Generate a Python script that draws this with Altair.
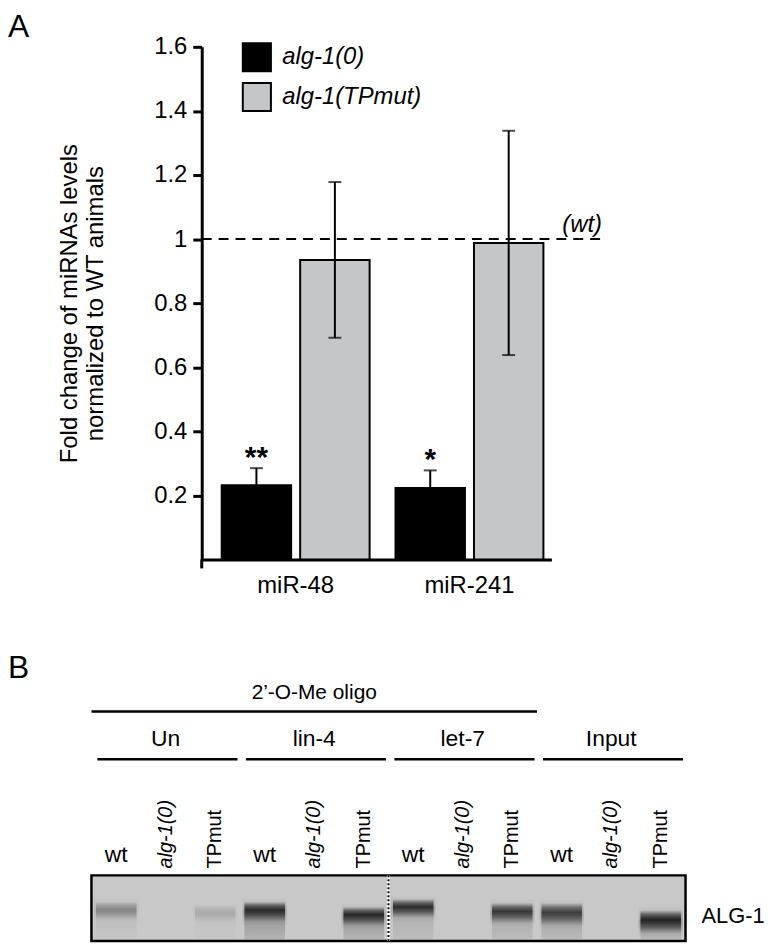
import altair as alt
import pandas as pd

FONT = "Liberation Sans"

# ---------------- Panel A data ----------------
mirna_order = ["miR-48", "miR-241"]
genotype_order = ["alg-1(0)", "alg-1(TPmut)"]
genotype_colors = ["#000000", "#c5c6c8"]
mirnas = ["miR-48", "miR-48", "miR-241", "miR-241"]
genotypes = ["alg-1(0)", "alg-1(TPmut)", "alg-1(0)", "alg-1(TPmut)"]
means = [0.232, 0.935, 0.223, 0.988]
errors = [0.053, 0.243, 0.055, 0.350]
stars = ["**", "", "*", ""]
y_ticks = [0.2, 0.4, 0.6, 0.8, 1.0, 1.2, 1.4, 1.6]
wt_level = 1.0

# ---------------- Panel B data ----------------
lane_labels = ["wt", "alg-1(0)", "TPmut"] * 4
lane_groups = ["Un"] * 3 + ["lin-4"] * 3 + ["let-7"] * 3 + ["Input"] * 3
group_order = ["Un", "lin-4", "let-7", "Input"]
oligo_groups = ["Un", "lin-4", "let-7"]
band_intensity = [0.35, 0.0, 0.15, 0.95, 0.0, 0.97, 0.92, 0.0, 0.85, 0.80, 0.0, 1.0]
band_smear = [0.12, 0.0, 0.06, 0.60, 0.0, 0.55, 0.30, 0.0, 0.35, 0.40, 0.0, 0.45]
band_top = [0.60, 0.55, 0.55, 0.60, 0.55, 0.52, 0.64, 0.58, 0.58, 0.58, 0.50, 0.47]
band_bottom = [0.32, 0.32, 0.29, 0.29, 0.30, 0.23, 0.35, 0.33, 0.27, 0.23, 0.20, 0.11]

# ---------------- Panel A ----------------
dfA = pd.DataFrame({"miRNA": mirnas, "genotype": genotypes, "mean": means,
                    "err": errors, "star": stars})
dfA["lo"] = dfA["mean"] - dfA["err"]
dfA["hi"] = dfA["mean"] + dfA["err"]

W_A, H_A = 352, 516

x_enc = alt.X("miRNA:N", sort=mirna_order,
              scale=alt.Scale(paddingInner=0.149, paddingOuter=0.0805, align=0.714),
              axis=alt.Axis(title=None, labelAngle=0, labelFontSize=24, labelColor="black",
                            labelFont=FONT, labelPadding=14, ticks=False,
                            domainColor="black", domainWidth=3))
xoff = alt.XOffset("genotype:N", sort=genotype_order,
                   scale=alt.Scale(paddingInner=0.115, paddingOuter=0))
y_scale = alt.Scale(domain=[0, 1.6], nice=False, zero=True)

bars = alt.Chart(dfA).mark_bar(stroke="black", strokeWidth=2).encode(
    x=x_enc, xOffset=xoff,
    y=alt.Y("mean:Q", scale=y_scale,
            axis=alt.Axis(values=y_ticks, format="~g", grid=False,
                          title=["Fold change of miRNAs levels", "normalized to WT animals"],
                          titleFontSize=24, titleFont=FONT, titleFontWeight="normal",
                          titleColor="black", titleLineHeight=27, titlePadding=46,
                          labelFontSize=24, labelFont=FONT, labelColor="black",
                          labelPadding=6, tickSize=9, tickWidth=3, tickColor="black",
                          domainColor="black", domainWidth=3)),
    color=alt.Color("genotype:N", sort=genotype_order,
                    scale=alt.Scale(domain=genotype_order, range=genotype_colors),
                    legend=alt.Legend(title=None, orient="none", legendX=40, legendY=-5,
                                      symbolType="square", symbolSize=800,
                                      symbolStrokeColor="black", symbolStrokeWidth=2,
                                      symbolOpacity=1, labelFontSize=24,
                                      labelFontStyle="italic", labelFont=FONT,
                                      labelColor="black", labelOffset=10,
                                      rowPadding=3, padding=0)),
)

err_rule = alt.Chart(dfA).mark_rule(color="black", strokeWidth=2).encode(
    x=x_enc, xOffset=xoff, y=alt.Y("lo:Q", scale=y_scale), y2="hi:Q")
cap_hi = alt.Chart(dfA).mark_tick(color="black", thickness=2, size=13).encode(
    x=x_enc, xOffset=xoff, y=alt.Y("hi:Q", scale=y_scale))
cap_lo = alt.Chart(dfA).mark_tick(color="black", thickness=2, size=13).encode(
    x=x_enc, xOffset=xoff, y=alt.Y("lo:Q", scale=y_scale))
star_txt = alt.Chart(dfA).transform_filter("datum.star != ''").mark_text(
    fontSize=30, fontWeight="bold", font=FONT, baseline="alphabetic", dy=-1, color="black"
).encode(x=x_enc, xOffset=xoff, y=alt.Y("hi:Q", scale=y_scale), text="star:N")

wt_df = pd.DataFrame({"level": [wt_level], "label": ["(wt)"]})
wt_rule = alt.Chart(wt_df).mark_rule(color="black", strokeWidth=2, strokeDash=[10, 7]).encode(
    y=alt.Y("level:Q", scale=y_scale), x=alt.value(0), x2=alt.value(404))
wt_text = alt.Chart(wt_df).mark_text(fontSize=24, fontStyle="italic", font=FONT, align="left",
                                     baseline="middle", dy=-14, color="black").encode(
    y=alt.Y("level:Q", scale=y_scale), x=alt.value(363), text="label:N")

corner = alt.Chart(wt_df).mark_rule(color="black", strokeWidth=3).encode(
    x=alt.value(0), y=alt.value(H_A), y2=alt.value(H_A + 9))

letterA = alt.Chart(pd.DataFrame({"t": ["A"]})).mark_text(
    fontSize=32, font=FONT, align="left", baseline="top", color="black").encode(
    x=alt.value(-195), y=alt.value(-35), text="t:N")

panelA = alt.layer(bars, err_rule, cap_hi, cap_lo, star_txt, wt_rule, wt_text, corner,
                   letterA).properties(width=W_A, height=H_A)

# ---------------- Panel B ----------------
n = len(lane_labels)
dfB = pd.DataFrame({"label": lane_labels, "group": lane_groups,
                    "intensity": band_intensity, "smear": band_smear,
                    "top": band_top, "bottom": band_bottom})
dfB["i"] = range(n)
dfB["x0"] = dfB["i"] - 0.41
dfB["x1"] = dfB["i"] + 0.41
dfB["h0"] = dfB["i"] - 0.45
dfB["h1"] = dfB["i"] + 0.45
dfB["mid"] = (dfB["top"] + dfB["bottom"]) / 2
dfB["halo_top"] = dfB["top"] + 0.06
dfB["halo_bottom"] = dfB["bottom"] - 0.06
dfB["halo"] = dfB["intensity"] * 0.35

gdf = pd.DataFrame({"group": group_order})
gdf["g"] = range(len(group_order))
gdf["xc"] = gdf["g"] * 3 + 1
gdf["xs"] = gdf["g"] * 3 - 0.38
gdf["xe"] = gdf["g"] * 3 + 2.45

odf = pd.DataFrame({"label": ["2\u2019-O-Me oligo"],
                    "xs": [-0.5], "xe": [len(oligo_groups) * 3 - 0.5]})
odf["xc"] = (odf["xs"] + odf["xe"]) / 2

gel = pd.DataFrame({"xs": [-0.5], "xe": [n - 0.5], "ys": [0.0], "ye": [1.0]})
sep = pd.DataFrame({"x": [group_order.index("let-7") * 3 - 0.5], "ys": [0.0], "ye": [1.0]})

W_B, H_B = 487, 364
xs = alt.Scale(domain=[-0.5, n - 0.5], range=[-111, W_B], nice=False, zero=False)
ys = alt.Scale(domain=[0, 1], range=[H_B, 298], nice=False, zero=False)

band_grad = alt.LinearGradient(
    gradient="linear", x1=0, x2=0, y1=0, y2=1,
    stops=[alt.GradientStop(offset=0, color="rgba(40,40,40,0)"),
           alt.GradientStop(offset=0.2, color="rgba(30,30,30,0.6)"),
           alt.GradientStop(offset=0.42, color="rgba(25,25,25,0.95)"),
           alt.GradientStop(offset=0.7, color="rgba(55,55,55,0.65)"),
           alt.GradientStop(offset=1, color="rgba(80,80,80,0)")])
halo_grad = alt.LinearGradient(
    gradient="linear", x1=0, x2=0, y1=0, y2=1,
    stops=[alt.GradientStop(offset=0, color="rgba(90,90,90,0)"),
           alt.GradientStop(offset=0.5, color="rgba(70,70,70,0.8)"),
           alt.GradientStop(offset=1, color="rgba(90,90,90,0)")])
smear_grad = alt.LinearGradient(
    gradient="linear", x1=0, x2=0, y1=0, y2=1,
    stops=[alt.GradientStop(offset=0, color="rgba(70,70,70,0.75)"),
           alt.GradientStop(offset=1, color="rgba(100,100,100,0.35)")])

gel_rect = alt.Chart(gel).mark_rect(fill="#c8c8c8", stroke="black", strokeWidth=2.5).encode(
    x=alt.X("xs:Q", scale=xs, axis=None), x2="xe:Q",
    y=alt.Y("ys:Q", scale=ys, axis=None), y2="ye:Q")
smear = alt.Chart(dfB).transform_filter("datum.smear > 0").mark_rect(fill=smear_grad).encode(
    x=alt.X("x0:Q", scale=xs, axis=None), x2="x1:Q",
    y=alt.Y("mid:Q", scale=ys, axis=None), y2=alt.datum(0.02),
    opacity=alt.Opacity("smear:Q", scale=None))
halo = alt.Chart(dfB).transform_filter("datum.intensity > 0").mark_rect(fill=halo_grad).encode(
    x=alt.X("h0:Q", scale=xs, axis=None), x2="h1:Q",
    y=alt.Y("halo_top:Q", scale=ys, axis=None), y2="halo_bottom:Q",
    opacity=alt.Opacity("halo:Q", scale=None))
bands = alt.Chart(dfB).transform_filter("datum.intensity > 0").mark_rect(fill=band_grad).encode(
    x=alt.X("x0:Q", scale=xs, axis=None), x2="x1:Q",
    y=alt.Y("top:Q", scale=ys, axis=None), y2="bottom:Q",
    opacity=alt.Opacity("intensity:Q", scale=None))
sep_white = alt.Chart(sep).mark_rule(color="white", strokeWidth=3).encode(
    x=alt.X("x:Q", scale=xs, axis=None), y=alt.Y("ys:Q", scale=ys, axis=None), y2="ye:Q")
sep_black = alt.Chart(sep).mark_rule(color="black", strokeWidth=2, strokeDash=[2, 2]).encode(
    x=alt.X("x:Q", scale=xs, axis=None), y=alt.Y("ys:Q", scale=ys, axis=None), y2="ye:Q")

oligo_text = alt.Chart(odf).mark_text(fontSize=21, font=FONT, baseline="middle",
                                      color="black").encode(
    x=alt.X("xc:Q", scale=xs, axis=None), y=alt.value(114), text="label:N")
oligo_line = alt.Chart(odf).mark_rule(color="black", strokeWidth=2.5).encode(
    x=alt.X("xs:Q", scale=xs, axis=None), x2="xe:Q", y=alt.value(133))
group_text = alt.Chart(gdf).mark_text(fontSize=23, font=FONT, baseline="middle",
                                      color="black").encode(
    x=alt.X("xc:Q", scale=xs, axis=None), y=alt.value(161), text="group:N")
group_line = alt.Chart(gdf).mark_rule(color="black", strokeWidth=2.5).encode(
    x=alt.X("xs:Q", scale=xs, axis=None), x2="xe:Q", y=alt.value(181))

wt_lab = alt.Chart(dfB).transform_filter("datum.label == 'wt'").mark_text(
    fontSize=23, font=FONT, baseline="alphabetic", color="black").encode(
    x=alt.X("i:Q", scale=xs, axis=None), y=alt.value(285), text="label:N")
mut_lab = alt.Chart(dfB).transform_filter("datum.label == 'alg-1(0)'").mark_text(
    fontSize=20, font=FONT, fontStyle="italic", angle=270, align="left",
    baseline="middle", color="black").encode(
    x=alt.X("i:Q", scale=xs, axis=None), y=alt.value(291), text="label:N")
tp_lab = alt.Chart(dfB).transform_filter("datum.label == 'TPmut'").mark_text(
    fontSize=20, font=FONT, angle=270, align="left",
    baseline="middle", color="black").encode(
    x=alt.X("i:Q", scale=xs, axis=None), y=alt.value(291), text="label:N")

alg_lab = alt.Chart(pd.DataFrame({"t": ["ALG-1"], "x": [n - 0.5]})).mark_text(
    fontSize=22, font=FONT, align="left", baseline="middle", dx=16, color="black").encode(
    x=alt.X("x:Q", scale=xs, axis=None), y=alt.value(339), text="t:N")
letterB = alt.Chart(pd.DataFrame({"t": ["B"]})).mark_text(
    fontSize=32, font=FONT, align="left", baseline="top", color="black").encode(
    x=alt.value(-195), y=alt.value(74), text="t:N")

panelB = alt.layer(gel_rect, smear, halo, bands, sep_white, sep_black, oligo_text,
                   oligo_line, group_text, group_line, wt_lab, mut_lab, tp_lab, alg_lab,
                   letterB).properties(width=W_B, height=H_B)

chart = alt.vconcat(panelA, panelB, spacing=20, bounds="flush").properties(
    padding=0
).configure(font=FONT).configure_view(stroke=None, strokeWidth=0)

chart.save("out.html", embed_options={"renderer": "svg", "actions": False})
